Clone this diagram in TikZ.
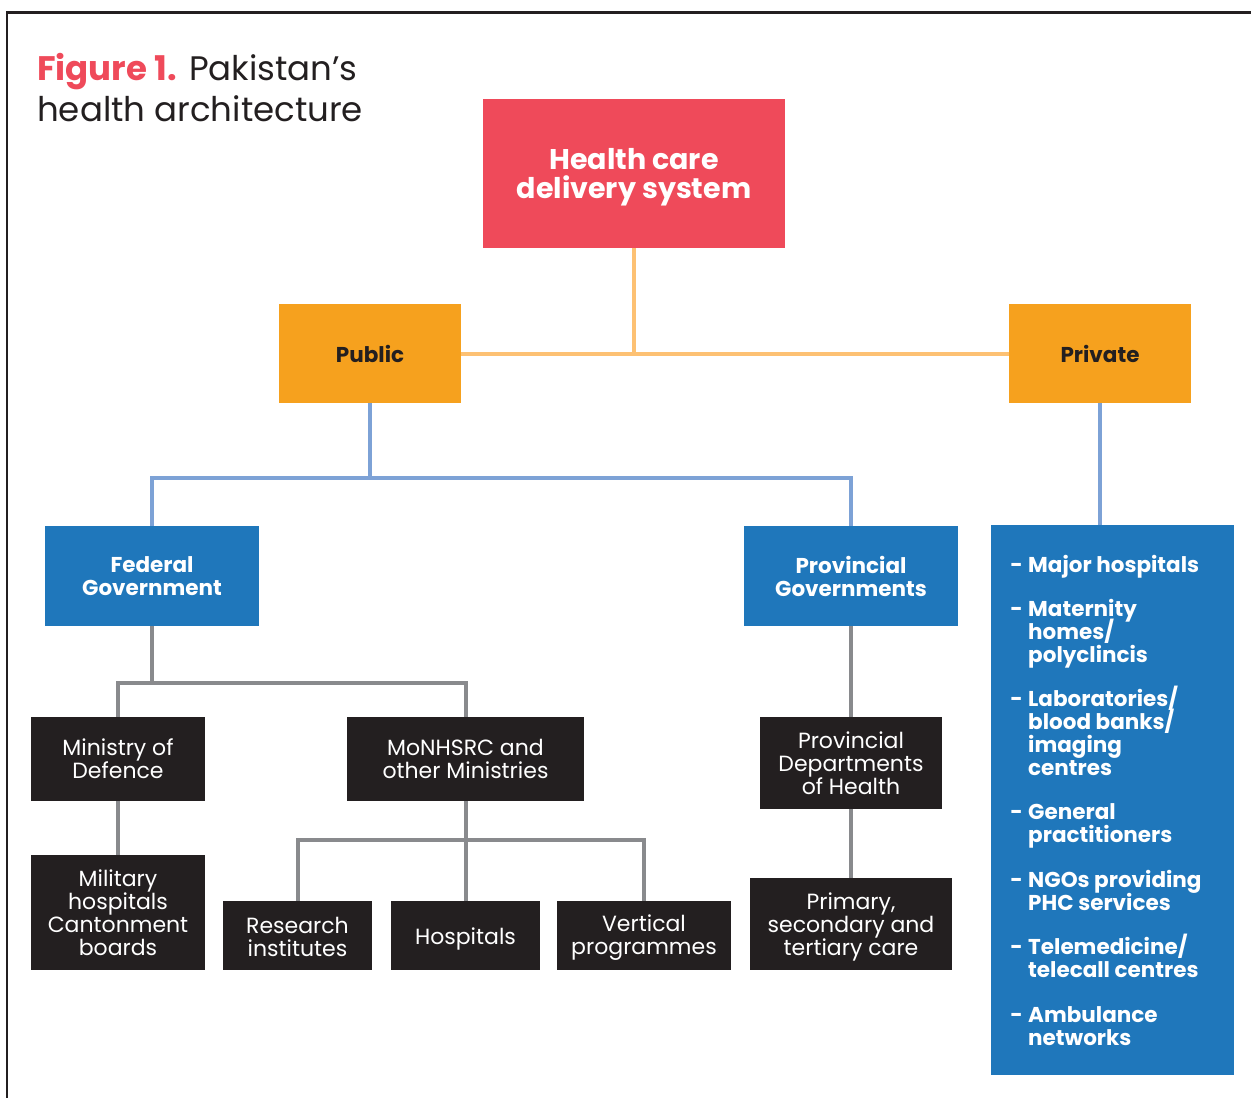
\documentclass[tikz,border=0pt]{standalone}
\usepackage{fontspec}
\setmainfont{Poppins}
\definecolor{hred}{HTML}{EF4A5A}
\definecolor{horange}{HTML}{F6A11E}
\definecolor{lorange}{HTML}{FDC173}
\definecolor{hblue}{HTML}{1F77BB}
\definecolor{lblue}{HTML}{7DA2D6}
\definecolor{lgray}{HTML}{898A8D}
\definecolor{hblack}{HTML}{231F20}
\tikzset{
  box/.style={inner sep=0pt, align=center, minimum width=#1},
  redbox/.style={box=302pt, minimum height=149pt, fill=hred},
  redtext/.style={inner sep=0pt, align=center, text=white, font=\fontsize{28.5}{29}\selectfont\bfseries},
  orbox/.style={box=182pt, minimum height=99pt, fill=horange, text=hblack, font=\fontsize{21.5}{23}\selectfont\bfseries},
  bluebox/.style={box=214pt, minimum height=100pt, fill=hblue, text=white, font=\fontsize{21.5}{23}\selectfont\bfseries},
  blkbox/.style={box=#1, fill=hblack, text=white, font=\fontsize{22}{23}\selectfont},
  blktext/.style={inner sep=0pt, align=center, text=white, font=\fontsize{22}{23}\selectfont},
  listtext/.style={inner sep=0pt, anchor=base west, text=white, font=\fontsize{21.5}{23}\selectfont\bfseries},
  oline/.style={draw=lorange, line width=4pt},
  bline/.style={draw=lblue, line width=4pt},
  gline/.style={draw=lgray, line width=4pt},
}
\begin{document}
\begin{tikzpicture}[x=1pt,y=-1pt]
\useasboundingbox (0,0) rectangle (1251,1098);
% frame
\draw[hblack, line width=2.5pt] (7,1100) -- (7,12.5) -- (1253,12.5);
% title
\node[anchor=base west, inner sep=0pt, font=\fontsize{34}{40}\selectfont, text=hblack] (title1) at (37,80) {\textcolor{hred}{\bfseries Figure 1.} Pakistan’s};
\node[anchor=base west, inner sep=0pt, font=\fontsize{34}{40}\selectfont, text=hblack] (title2) at (37,121) {health architecture};
% boxes
\node[redbox] (hc) at (634,173.5) {};
\node[redtext] (hct) at ([yshift=-4pt]hc.center) {Health care\\delivery system};
\node[orbox] (pub) at (370,353.5) {Public};
\node[orbox] (priv) at (1100,353.5) {Private};
\node[bluebox] (fed) at (152,576) {Federal\\Government};
\node[bluebox] (prov) at (851,576) {Provincial\\Governments};
\node[blkbox=174pt, minimum height=84pt] (mod) at (118,759) {Ministry of\\Defence};
\node[blkbox=174pt, minimum height=115pt] (mil) at (118,912.5) {Military\\hospitals\\Cantonment\\boards};
\node[blkbox=237pt, minimum height=84pt] (mon) at (465.5,759) {MoNHSRC and\\other Ministries};
\node[blkbox=149pt, minimum height=69pt] (res) at (297.5,935.5) {};
\node[blktext] (rest) at ([yshift=-1.5pt]res.center) {Research\\institutes};
\node[blkbox=149pt, minimum height=69pt] (hos) at (465.5,935.5) {};
\node[blktext] (host) at ([yshift=-3pt]hos.center) {Hospitals};
\node[blkbox=174pt, minimum height=69pt] (ver) at (644,935.5) {};
\node[blktext] (vert) at ([yshift=-2.5pt]ver.center) {Vertical\\programmes};
\node[blkbox=182pt, minimum height=92pt] (pdh) at (851,763) {Provincial\\Departments\\of Health};
\node[blkbox=202pt, minimum height=92pt] (pri) at (851,924) {};
\node[blktext] (prit) at ([yshift=-3pt]pri.center) {Primary,\\secondary and\\tertiary care};
\node[fill=hblue, minimum width=243pt, minimum height=550pt, inner sep=0pt] (plist) at (1112.5,800) {};
% private list
\foreach \y [count=\i] in {572,616,706,819,887,954,1022}
  \node[listtext, anchor=base east] (d\i) at (1023,\y) {-};
\foreach \y/\t [count=\i] in {572/{Major hospitals}, 616/{Maternity}, 639/{homes/}, 662/{polyclincis},
  706/{Laboratories/}, 729/{blood banks/}, 752/{imaging}, 775/{centres},
  819/{General}, 842/{practitioners}, 887/{NGOs providing}, 910/{PHC services},
  954/{Telemedicine/}, 977/{telecall centres}, 1022/{Ambulance}, 1045/{networks}}
  \node[listtext] (l\i) at (1028,\y) {\t};
% connectors
\coordinate (oj) at (634,353.5);
\draw[oline] (hc.south) -- (oj);
\draw[oline] (pub.east) -- (priv.west);
\coordinate (bj) at (370,478);
\draw[bline] (pub.south) -- (bj) -| (fed.north);
\draw[bline] (bj) -| (prov.north);
\draw[bline] (priv.south) -- (plist.north -| priv.south);
\coordinate (gj) at (152,683);
\draw[gline] (fed.south) -- (gj);
\draw[gline] (mod.north) |- (gj) -| (mon.north);
\draw[gline] (mod.south) -- (mil.north);
\coordinate (mj) at (465.5,840);
\draw[gline] (mon.south) -- (mj) -- (hos.north);
\draw[gline] (res.north) |- (mj) -| (ver.north);
\draw[gline] (prov.south) -- (pdh.north);
\draw[gline] (pdh.south) -- (pri.north);
\end{tikzpicture}
\end{document}
